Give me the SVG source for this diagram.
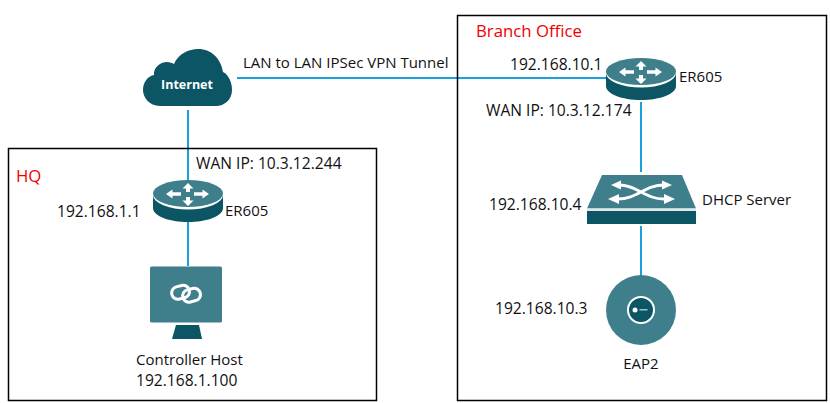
<svg xmlns="http://www.w3.org/2000/svg" width="830" height="403" viewBox="0 0 830 403">
<style>
text{font-family:"Open Sans","Noto Sans","Liberation Sans",sans-serif;font-size:15px;fill:#111}
.num{font-size:15.600px}
.red{fill:#f00000;font-size:16.800px}
.box{fill:none;stroke:#000;stroke-width:1.500}
.link{fill:none;stroke:#1aa0dc;stroke-width:2}
.light{fill:#3f7f8c}
.dark{fill:#0b5565}
.wht{fill:#fff}
.arr{fill:none;stroke:#fff;stroke-width:2.800}
</style>
<defs>
<g id="router">
<path class="dark" d="M153 194V208C153 216 169 222 188 222S223 216 223 208V194Z"/>
<ellipse cx="188" cy="195" rx="35" ry="14.500" fill="#fff"/>
<ellipse class="light" cx="188" cy="193.500" rx="35" ry="13.500"/>
<path class="wht" d="M188 183l5.500 5.500h-3.500v3.500h-4v-3.500h-3.500zM188 206l5.500-5.500h-3.500v-3.500h-4v3.500h-3.500zM166 194l6.500-4.500v2.700h8.500v3.600h-8.500v2.700zM209 194l-6.500-4.500v2.700h-8.500v3.600h8.500v2.700z"/>
</g>
</defs>
<rect width="830" height="403" fill="#fff"/>
<g id="connectors">
<path class="link" d="M237 78H608"/>
<path class="link" d="M188 110V180"/>
<path class="link" d="M188 222V266"/>
<path class="link" d="M641 102V172"/>
<path class="link" d="M641 226V276"/>
</g>
<g id="hq"><rect class="box" x="8.500" y="148.500" width="368" height="252"/><text class="red" x="16" y="182">HQ</text></g>
<g id="branch"><rect class="box" x="457.500" y="15.500" width="369" height="385"/><text class="red" x="476" y="37">Branch Office</text></g>
<g id="internet">
<path class="dark" d="M160 106C149 106 143 97 143 90C143 82 148 76 154 75C153 68 160 62 167 62C170 62 172 63 174 64C178 54 189 49 198 49C212 49 221 59 223 72C229 75 232 83 232 90C232 100 224 106 216 106Z"/>
<text x="187" y="89" text-anchor="middle" style="font-size:12.500px;font-weight:700;fill:#fff">Internet</text>
</g>
<text x="243" y="68">LAN to LAN IPSec VPN Tunnel</text>
<g id="router-hq"><use href="#router"/><text x="225" y="216">ER605</text></g>
<text class="num" x="196" y="169">WAN IP: 10.3.12.244</text>
<text class="num" x="57" y="217">192.168.1.1</text>
<g id="controller">
<rect class="light" x="150" y="266.500" width="72" height="56" rx="1.500"/>
<path class="dark" d="M176 325H199L202 339H172Z"/>
<g fill="none" stroke="#fff" stroke-width="3">
<rect x="171.500" y="286" width="18" height="12.500" rx="6.250" transform="rotate(-15 180.500 292)"/>
<rect x="182.500" y="289" width="18" height="12.500" rx="6.250" transform="rotate(-15 191.500 295)"/>
</g>
<text x="136" y="365">Controller Host</text>
<text class="num" x="136" y="386">192.168.1.100</text>
</g>
<g id="router-branch"><use href="#router" x="453" y="-122"/><text x="679" y="82">ER605</text></g>
<text class="num" x="510" y="70">192.168.10.1</text>
<text class="num" x="486" y="116">WAN IP: 10.3.12.174</text>
<g id="switch">
<path class="light" d="M602 175H682L696 208.500H587Z"/>
<rect x="587" y="208.500" width="109" height="2.500" fill="#dfe9eb"/>
<rect class="dark" x="587" y="211" width="109" height="13"/>
<path class="arr" d="M620 185C637 185 645 199 664 199M664 185C645 185 637 199 618 199"/>
<path class="wht" d="M611 185l10-4.500v9zM672 185l-10-4.500v9zM608 199l11-5v10zM675 199l-11-5v10z"/>
<text x="702" y="205">DHCP Server</text>
</g>
<text class="num" x="489" y="210">192.168.10.4</text>
<g id="eap">
<circle class="light" cx="641" cy="310" r="35"/>
<circle cx="641" cy="310" r="13" fill="#0b5565" stroke="#fff" stroke-width="2"/>
<circle cx="635" cy="310" r="2.500" fill="#fff"/>
<rect x="639.500" y="309" width="8" height="1.500" fill="#9fc0c6"/>
<text x="641" y="369" text-anchor="middle">EAP2</text>
</g>
<text class="num" x="495" y="314">192.168.10.3</text>
</svg>
